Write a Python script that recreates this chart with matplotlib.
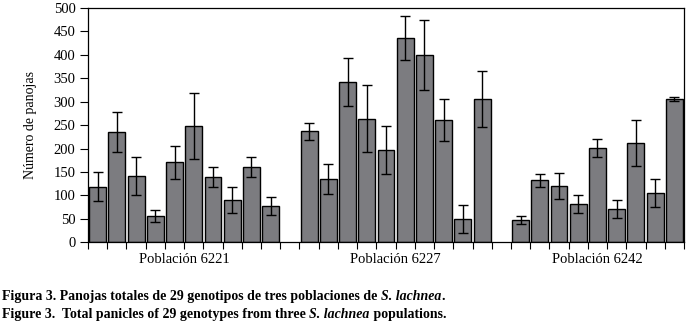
import numpy as np
import matplotlib
matplotlib.use('Agg')
import matplotlib.pyplot as plt

# values (means and half-width of error bars)
pop_labels = ['Población 6221', 'Población 6227', 'Población 6242']
pop_6221 = [119, 235, 141, 56, 171, 248, 139, 90, 160, 77]
err_6221 = [31, 42, 40, 13, 35, 70, 22, 27, 21, 19]
pop_6227 = [237, 135, 342, 264, 197, 436, 400, 261, 49, 306]
err_6227 = [18, 32, 51, 71, 51, 46, 74, 45, 30, 60]
pop_6242 = [47, 132, 120, 81, 201, 71, 212, 105, 306]
err_6242 = [9, 14, 28, 19, 19, 19, 50, 29, 5]

plt.rcParams['font.family'] = ['Liberation Serif', 'DejaVu Serif']

fig = plt.figure(figsize=(6.94, 3.25), dpi=100)
ax = fig.add_axes([0.1268, 0.2545, 0.8588, 0.7209])

groups = [(pop_6221, err_6221), (pop_6227, err_6227), (pop_6242, err_6242)]
start = 0
centers = []
for vals, errs in groups:
    x = np.arange(start, start + len(vals))
    ax.bar(x, vals, width=0.88, color='#7c7c80', edgecolor='black', linewidth=1.0, zorder=2)
    ax.errorbar(x, vals, yerr=errs, fmt='none', ecolor='black', elinewidth=1.0,
                capsize=3.5, capthick=1.0, zorder=3)
    centers.append((x[0] + x[-1]) / 2)
    start += len(vals) + 1

ax.set_xlim(-0.5, 30.5)
ax.set_ylim(0, 500)
ax.set_yticks(np.arange(0, 501, 50))
ax.set_xticks(np.arange(-0.5, 31, 1.0))
ax.set_xticklabels([])
ax.tick_params(axis='y', direction='out', length=6, width=0.8, labelsize=10.5, pad=3)
ax.tick_params(axis='x', direction='out', length=5, width=0.8)
for s in ax.spines.values():
    s.set_linewidth(0.9)

ax.set_ylabel('Número de panojas', fontsize=10)
ax.yaxis.set_label_coords(-0.086, 0.5)

for c, lab in zip(centers, pop_labels):
    ax.text(c, -0.045, lab, transform=ax.get_xaxis_transform(), ha='center', va='top',
            fontsize=10.5)

# caption lines with mixed bold / italic pieces
caption = [
    [('Figura 3. Panojas totales de 29 genotipos de tres poblaciones de ', 'normal'),
     ('S. lachnea', 'italic'), ('.', 'normal')],
    [('Figure 3.  Total panicles of 29 genotypes from three ', 'normal'),
     ('S. lachnea', 'italic'), (' populations.', 'normal')],
]
fig.canvas.draw()
renderer = fig.canvas.get_renderer()
y_pos = [1 - 300 / 325, 1 - 318 / 325]
for line, yy in zip(caption, y_pos):
    xx = 2 / 694
    for txt, style in line:
        t = fig.text(xx, yy, txt, fontsize=10, fontweight='bold', style=style,
                     ha='left', va='baseline')
        bb = t.get_window_extent(renderer=renderer)
        xx += bb.width / fig.bbox.width

fig.savefig('out.png', dpi=100)
